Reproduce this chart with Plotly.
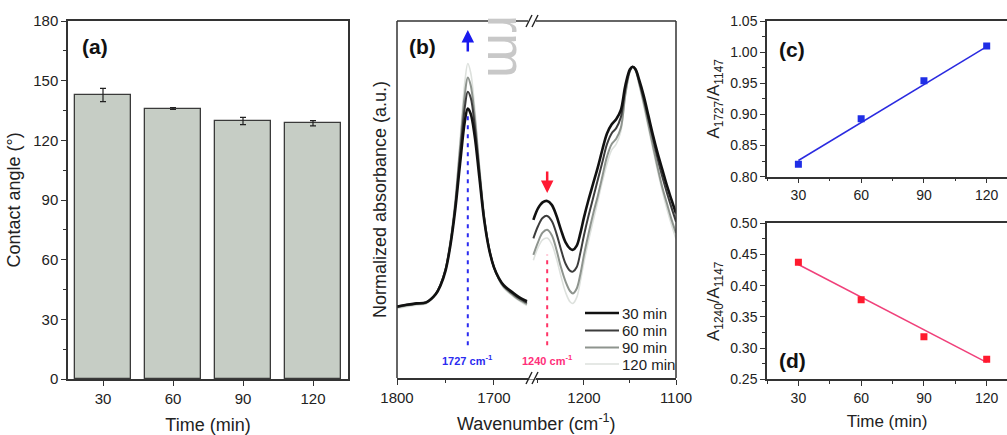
import plotly.graph_objects as go

W, H = 1007, 435

# ---------------- data ----------------
times = [30, 60, 90, 120]
time_labels = ["30", "60", "90", "120"]
contact_angle = [142.8, 136.0, 129.7, 128.6]
contact_err = [3.3, 0.5, 1.8, 1.3]

ratio_1727 = [0.820, 0.893, 0.954, 1.010]
fit_1727 = [0.826, 1.009]
ratio_1240 = [0.4375, 0.3776, 0.3183, 0.282]
fit_1240 = [0.434, 0.277]
fit_x = [30, 120]

series_names = ["30 min", "60 min", "90 min", "120 min"]

wn_left = [1800, 1790, 1780, 1770, 1760, 1755, 1750, 1745, 1740, 1735, 1730, 1727,
           1724, 1720, 1715, 1710, 1705, 1700, 1695, 1690, 1680, 1675, 1670, 1666]
abs_left_30 = [0.200, 0.205, 0.209, 0.212, 0.235, 0.260, 0.300, 0.370, 0.470, 0.600, 0.720, 0.755,
               0.740, 0.680, 0.560, 0.440, 0.360, 0.310, 0.280, 0.260, 0.238, 0.228, 0.220, 0.215]
abs_left_60 = [0.200, 0.205, 0.209, 0.212, 0.236, 0.262, 0.303, 0.375, 0.480, 0.625, 0.760, 0.802,
               0.785, 0.710, 0.575, 0.445, 0.362, 0.310, 0.279, 0.258, 0.235, 0.225, 0.217, 0.211]
abs_left_90 = [0.198, 0.203, 0.207, 0.210, 0.236, 0.263, 0.305, 0.380, 0.490, 0.645, 0.795, 0.842,
               0.820, 0.735, 0.585, 0.450, 0.363, 0.309, 0.277, 0.255, 0.231, 0.221, 0.213, 0.207]
abs_left_120 = [0.195, 0.200, 0.204, 0.208, 0.236, 0.264, 0.307, 0.385, 0.500, 0.665, 0.830, 0.881,
                0.855, 0.760, 0.595, 0.455, 0.364, 0.308, 0.275, 0.252, 0.228, 0.218, 0.209, 0.203]

wn_right = [1255, 1250, 1245, 1240, 1235, 1230, 1225, 1220, 1215, 1212, 1208, 1204, 1200,
            1195, 1190, 1185, 1180, 1175, 1170, 1165, 1160, 1155, 1150, 1147, 1144, 1140,
            1135, 1130, 1125, 1120, 1115, 1110, 1105, 1100]
abs_right_30 = [0.443, 0.475, 0.492, 0.496, 0.485, 0.455, 0.415, 0.380, 0.362, 0.359, 0.370, 0.405, 0.450,
                0.500, 0.545, 0.590, 0.640, 0.685, 0.710, 0.725, 0.750, 0.820, 0.865, 0.872, 0.865, 0.835,
                0.790, 0.735, 0.680, 0.630, 0.585, 0.540, 0.500, 0.461]
abs_right_60 = [0.391, 0.425, 0.448, 0.454, 0.440, 0.405, 0.360, 0.320, 0.300, 0.298, 0.310, 0.350, 0.400,
                0.455, 0.505, 0.555, 0.605, 0.655, 0.685, 0.700, 0.730, 0.810, 0.862, 0.872, 0.865, 0.830,
                0.780, 0.725, 0.670, 0.615, 0.565, 0.520, 0.478, 0.438]
abs_right_90 = [0.345, 0.380, 0.407, 0.415, 0.400, 0.360, 0.310, 0.270, 0.243, 0.237, 0.250, 0.290, 0.345,
                0.405, 0.460, 0.510, 0.565, 0.620, 0.655, 0.670, 0.700, 0.795, 0.860, 0.872, 0.862, 0.825,
                0.770, 0.710, 0.650, 0.590, 0.535, 0.490, 0.445, 0.406]
abs_right_120 = [0.330, 0.365, 0.387, 0.392, 0.375, 0.335, 0.285, 0.240, 0.213, 0.209, 0.225, 0.270, 0.325,
                 0.385, 0.440, 0.495, 0.550, 0.600, 0.638, 0.655, 0.690, 0.790, 0.858, 0.872, 0.860, 0.820,
                 0.760, 0.700, 0.640, 0.580, 0.525, 0.475, 0.430, 0.390]

peak_1727 = 1727
peak_1240 = 1240

# ---------------- helpers ----------------
def px(x):
    return x / W

def py(y):
    return 1 - y / H

FONT = "Liberation Sans, Arial, sans-serif"
AX = "#333333"

fig = go.Figure()

# ---------- panel (a): bars ----------
fig.add_trace(go.Bar(
    x=times, y=contact_angle, width=24,
    marker=dict(color="#c6cdc5", line=dict(color="#3a3a3a", width=1.3)),
    error_y=dict(type="data", array=contact_err, visible=True, color="#222222",
                 thickness=1.2, width=3),
    xaxis="x", yaxis="y", showlegend=False))

# ---------- panel (b): spectra ----------
line_styles = [
    dict(color="#111111", width=2.6),
    dict(color="#3c3c3c", width=2.0),
    dict(color="#8e948e", width=2.0),
    dict(color="#dde1dd", width=1.6),
]
left_sets = [abs_left_30, abs_left_60, abs_left_90, abs_left_120]
right_sets = [abs_right_30, abs_right_60, abs_right_90, abs_right_120]
for i in [3, 2, 1, 0]:
    fig.add_trace(go.Scatter(x=wn_left, y=left_sets[i], mode="lines", line=dict(**line_styles[i], shape="spline"),
                             xaxis="x2", yaxis="y2", showlegend=False, hoverinfo="skip", name=series_names[i]))
    fig.add_trace(go.Scatter(x=wn_right, y=right_sets[i], mode="lines", line=dict(**line_styles[i], shape="spline"),
                             xaxis="x3", yaxis="y2", showlegend=False, hoverinfo="skip", name=series_names[i]))

fig.add_trace(go.Scatter(x=[peak_1727, peak_1727], y=[0.092, 0.735], mode="lines",
                         line=dict(color="#2b2bf0", width=2, dash="4px,5px"),
                         xaxis="x2", yaxis="y2", showlegend=False, hoverinfo="skip"))
fig.add_trace(go.Scatter(x=[peak_1240, peak_1240], y=[0.092, 0.345], mode="lines",
                         line=dict(color="#ff3366", width=2, dash="4px,5px"),
                         xaxis="x3", yaxis="y2", showlegend=False, hoverinfo="skip"))

# ---------- panel (c) ----------
fig.add_trace(go.Scatter(x=fit_x, y=fit_1727, mode="lines", line=dict(color="#2a2ae0", width=1.5),
                         xaxis="x4", yaxis="y4", showlegend=False))
fig.add_trace(go.Scatter(x=times, y=ratio_1727, mode="markers",
                         marker=dict(symbol="square", size=7, color="#1f2ee6"),
                         xaxis="x4", yaxis="y4", showlegend=False))

# ---------- panel (d) ----------
fig.add_trace(go.Scatter(x=fit_x, y=fit_1240, mode="lines", line=dict(color="#f0407a", width=1.5),
                         xaxis="x5", yaxis="y5", showlegend=False))
fig.add_trace(go.Scatter(x=times, y=ratio_1240, mode="markers",
                         marker=dict(symbol="square", size=7, color="#ff1a2e"),
                         xaxis="x5", yaxis="y5", showlegend=False))

tickfont = dict(family=FONT, size=15, color="#222")
smallfont = dict(family=FONT, size=14, color="#222")
titlefont = dict(family=FONT, size=18, color="#222")

def xax(domain, rng, **kw):
    d = dict(domain=domain, range=rng, showline=True, linecolor=AX, linewidth=1.5,
             ticks="outside", ticklen=5, tickcolor=AX, tickwidth=1.2, automargin=False,
             showgrid=False, zeroline=False, tickfont=tickfont)
    d.update(kw)
    return d

fig.update_layout(
    width=W, height=H, margin=dict(l=0, r=0, t=0, b=0, autoexpand=False),
    paper_bgcolor="white", plot_bgcolor="white",
    font=dict(family=FONT, color="#222"),
    bargap=0, showlegend=False,
    xaxis=xax([px(68), px(348)], [15, 135], tickvals=times, ticktext=time_labels, mirror=True,
              title=dict(text="Time (min)", font=titlefont, standoff=14)),
    yaxis=dict(domain=[py(379), py(21)], range=[0, 180], dtick=30, showline=True, mirror=True,
               linecolor=AX, linewidth=1.5, ticks="outside", ticklen=5, tickcolor=AX, automargin=False,
               showgrid=False, zeroline=False, tickfont=tickfont,
               minor=dict(dtick=15, ticks="outside", ticklen=3, tickcolor=AX, showgrid=False),
               title=dict(text="Contact angle (°)", font=titlefont, standoff=8)),
    xaxis2=xax([px(397), px(532)], [1800, 1660.8], anchor="y2", dtick=100, tick0=1800, mirror=False,
               minor=dict(dtick=50, ticks="outside", ticklen=3, tickcolor=AX, showgrid=False)),
    xaxis3=xax([px(532), px(676)], [1256.5, 1100], anchor="y2", dtick=100, tick0=1100, mirror=False,
               minor=dict(dtick=50, ticks="outside", ticklen=3, tickcolor=AX, showgrid=False)),
    yaxis2=dict(domain=[py(378), py(21)], range=[0, 1], anchor="x2", showline=False, automargin=False,
                showticklabels=False, ticks="", showgrid=False, zeroline=False,
                title=dict(text="Normalized absorbance (a.u.)", font=titlefont, standoff=4)),
    xaxis4=xax([px(767), 1.0], [15, 129.7], anchor="y4", tickvals=times, tickfont=smallfont, mirror=True,
               minor=dict(dtick=15, tick0=15, ticks="outside", ticklen=3, tickcolor=AX, showgrid=False)),
    yaxis4=dict(domain=[py(176.7), py(21)], range=[0.80, 1.05], dtick=0.05, anchor="x4", automargin=False,
                tickformat=".2f", showline=True, mirror=False, linecolor=AX, linewidth=1.5,
                ticks="outside", ticklen=5, tickcolor=AX, showgrid=False, zeroline=False,
                tickfont=smallfont,
                minor=dict(dtick=0.025, ticks="outside", ticklen=3, tickcolor=AX, showgrid=False),
                title=dict(text="A<sub>1727</sub>/A<sub>1147</sub>", font=dict(family=FONT, size=17, color="#222"), standoff=6)),
    xaxis5=xax([px(767), 1.0], [15, 129.7], anchor="y5", tickvals=times, tickfont=smallfont, mirror=True,
               minor=dict(dtick=15, tick0=15, ticks="outside", ticklen=3, tickcolor=AX, showgrid=False),
               title=dict(text="Time (min)", font=dict(family=FONT, size=17, color="#222"), standoff=10)),
    yaxis5=dict(domain=[py(379.3), py(223.3)], range=[0.25, 0.50], dtick=0.05, anchor="x5", automargin=False,
                tickformat=".2f", showline=True, mirror=False, linecolor=AX, linewidth=1.5,
                ticks="outside", ticklen=5, tickcolor=AX, showgrid=False, zeroline=False,
                tickfont=smallfont,
                minor=dict(dtick=0.025, ticks="outside", ticklen=3, tickcolor=AX, showgrid=False),
                title=dict(text="A<sub>1240</sub>/A<sub>1147</sub>", font=dict(family=FONT, size=17, color="#222"), standoff=6)),
)

shapes = []
Lc = dict(color=AX, width=1.5)
bx = 532
shapes.append(dict(type="line", xref="paper", yref="paper", x0=px(397), x1=px(397), y0=py(378), y1=py(21), line=Lc))
shapes.append(dict(type="line", xref="paper", yref="paper", x0=px(676), x1=px(676), y0=py(378), y1=py(21), line=Lc))
shapes.append(dict(type="line", xref="paper", yref="paper", x0=px(397), x1=px(bx - 4), y0=py(21), y1=py(21), line=Lc))
shapes.append(dict(type="line", xref="paper", yref="paper", x0=px(bx + 4), x1=px(676), y0=py(21), y1=py(21), line=Lc))
shapes.append(dict(type="rect", xref="paper", yref="paper", x0=px(bx - 4), x1=px(bx + 4), y0=py(379.5), y1=py(376.5),
                   line=dict(width=0), fillcolor="white", layer="above"))
for yb in (21, 378):
    for dx in (-3, 3):
        shapes.append(dict(type="line", xref="paper", yref="paper",
                           x0=px(bx + dx - 3), x1=px(bx + dx + 3), y0=py(yb + 6), y1=py(yb - 6),
                           line=dict(color="#222", width=1.4), layer="above"))

ann = []
# manual legend (line samples + labels)
leg_y = [313, 330.5, 347.5, 364]
for i in range(4):
    shapes.append(dict(type="line", xref="paper", yref="paper", x0=px(585), x1=px(619),
                       y0=py(leg_y[i]), y1=py(leg_y[i]), line=line_styles[i]))
    ann.append(dict(text=series_names[i], x=px(620), y=py(leg_y[i]), xref="paper", yref="paper",
                    xanchor="left", yanchor="middle", showarrow=False,
                    font=dict(family=FONT, size=15, color="#222")))
fig.update_layout(shapes=shapes)

lab = dict(family=FONT, size=21, color="#111")
ann.append(dict(text="<b>(a)</b>", x=px(80), y=py(46), xref="paper", yref="paper", xanchor="left", yanchor="middle", showarrow=False, font=lab))
ann.append(dict(text="<b>(b)</b>", x=px(407), y=py(46), xref="paper", yref="paper", xanchor="left", yanchor="middle", showarrow=False, font=lab))
ann.append(dict(text="<b>(c)</b>", x=px(777), y=py(50), xref="paper", yref="paper", xanchor="left", yanchor="middle", showarrow=False, font=lab))
ann.append(dict(text="<b>(d)</b>", x=px(777), y=py(360), xref="paper", yref="paper", xanchor="left", yanchor="middle", showarrow=False, font=lab))
ann.append(dict(text="Wavenumber (cm<sup>-1</sup>)", x=px(536), y=py(422), xref="paper", yref="paper",
                xanchor="center", yanchor="middle", showarrow=False, font=titlefont))
ann.append(dict(text="<b>1727 cm<sup>-1</sup></b>", x=peak_1727, y=0.05, xref="x2", yref="y2",
                xanchor="center", yanchor="middle", showarrow=False, font=dict(family=FONT, size=11, color="#2b2bf0")))
ann.append(dict(text="<b>1240 cm<sup>-1</sup></b>", x=peak_1240, y=0.05, xref="x3", yref="y2",
                xanchor="center", yanchor="middle", showarrow=False, font=dict(family=FONT, size=11, color="#ff2f7a")))
ann.append(dict(x=peak_1727, y=py(30), ax=0, ay=23, xref="x2", yref="paper", axref="pixel", ayref="pixel",
                showarrow=True, arrowhead=2, arrowsize=1, arrowwidth=2.5, arrowcolor="#1a1aee", text=""))
ann.append(dict(x=peak_1240, y=py(193), ax=0, ay=-23, xref="x3", yref="paper", axref="pixel", ayref="pixel",
                showarrow=True, arrowhead=2, arrowsize=1, arrowwidth=2.5, arrowcolor="#ff1a33", text=""))
ann.append(dict(text="rm", x=px(507), y=py(46), xref="paper", yref="paper", textangle=90, showarrow=False,
                font=dict(family=FONT, size=54, color="#c8c8c8"), xanchor="center", yanchor="middle"))
fig.update_layout(annotations=ann)

fig.write_html("out.html", config={"displayModeBar": False},
               post_script="document.body.style.margin='0';document.body.style.overflow='hidden';")
